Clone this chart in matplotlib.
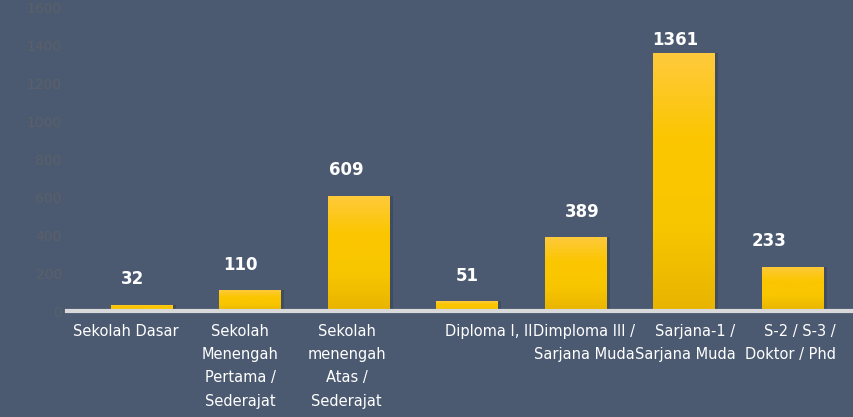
import numpy as np
import matplotlib
matplotlib.use('Agg')
import matplotlib.pyplot as plt
from matplotlib.colors import LinearSegmentedColormap

# data
categories = ['Sekolah Dasar',
              'Sekolah\nMenengah\nPertama /\nSederajat',
              'Sekolah\nmenengah\nAtas /\nSederajat',
              'Diploma I, II',
              'Dimploma III /\nSarjana Muda',
              'Sarjana-1 /\nSarjana Muda',
              'S-2 / S-3 /\nDoktor / Phd']
values = [32, 110, 609, 51, 389, 1361, 233]
yticks = [0, 200, 400, 600, 800, 1000, 1200, 1400, 1600]

# small horizontal nudges, labels in the original are not centred on bars
value_dx = [-0.08, -0.09, -0.11, 0.0, 0.06, -0.08, -0.22]
cat_dx = [-0.14, -0.09, -0.11, 0.2, 0.08, 0.01, -0.02]
cat_align = ['center', 'center', 'center', 'center', 'center', 'right', 'right']

bg = '#4b5a71'
fig = plt.figure(figsize=(8.54, 4.17), dpi=100, facecolor=bg)
ax = fig.add_axes([0.078, 0.254, 0.92, 0.727])
ax.set_facecolor(bg)

x = np.arange(len(values))
bars = ax.bar(x, values, width=0.57, color='none', edgecolor='none', zorder=3)

# gradient fill for each bar, light yellow on top to golden at the bottom
cmap = LinearSegmentedColormap.from_list('gold', ['#e8b400', '#f8c600', '#fbc600', '#ffca3c'])
grad = np.linspace(0, 1, 256).reshape(-1, 1)
for b in bars:
    bx, bw, bh = b.get_x(), b.get_width(), b.get_height()
    # soft shadow
    ax.bar(bx + bw / 2 + 0.03, bh, width=bw, color='#3a4556', alpha=0.6,
           zorder=2, edgecolor='none')
    im = ax.imshow(grad, extent=[bx, bx + bw, 0, bh], origin='lower',
                   cmap=cmap, aspect='auto', zorder=3)
    im.set_clip_path(b)

# value labels (the tallest one gets squeezed under the top of the chart)
for xi, v, dx in zip(x, values, value_dx):
    ax.annotate(str(v), (xi + dx, min(v, 1297)), xytext=(0, 12),
                textcoords='offset points', ha='center', va='bottom',
                color='white', fontsize=12, fontweight='bold')

# category labels
for xi, lab, dx, al in zip(x, categories, cat_dx, cat_align):
    ax.annotate(lab, (xi + dx, 0), xycoords=('data', 'axes fraction'),
                xytext=(0, -9), textcoords='offset points', ha='center',
                va='top', color='white', fontsize=10.5, linespacing=1.7,
                multialignment=al)

ax.set_xlim(-0.69, 6.55)
ax.set_ylim(0, 1600)
ax.set_yticks(yticks)
ax.set_xticks([])
ax.tick_params(axis='y', length=0, colors='#5a6068', labelsize=10)

for s in ['top', 'right', 'left']:
    ax.spines[s].set_visible(False)
ax.spines['bottom'].set_color('#d9d9d9')
ax.spines['bottom'].set_linewidth(3)
ax.spines['bottom'].set_zorder(4)

fig.savefig('out.png', dpi=100, facecolor=bg)
